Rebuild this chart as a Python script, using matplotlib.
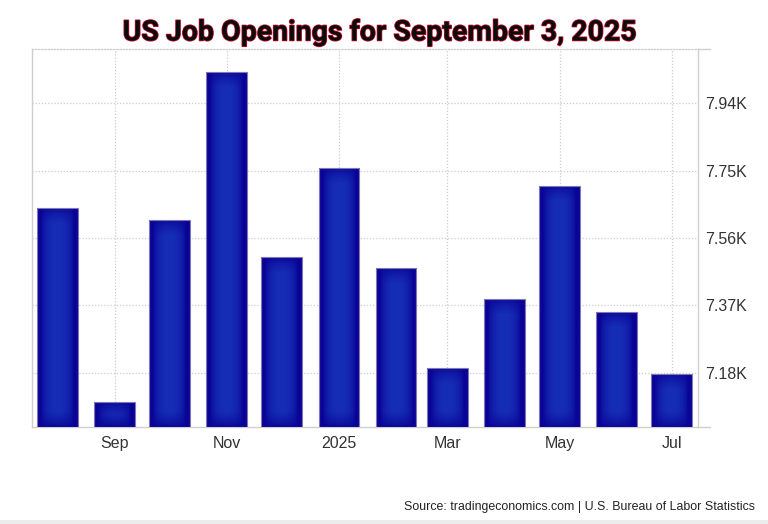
import datetime as dt
import numpy as np
import matplotlib
matplotlib.use("Agg")
import matplotlib.pyplot as plt
import matplotlib.dates as mdates
import matplotlib.patheffects as pe
from matplotlib.patches import Rectangle

# ---- data ----
months = ["2024-08", "2024-09", "2024-10", "2024-11", "2024-12", "2025-01",
          "2025-02", "2025-03", "2025-04", "2025-05", "2025-06", "2025-07"]
openings_k = [7.645, 7.097, 7.610, 8.029, 7.505, 7.758,
              7.476, 7.194, 7.389, 7.707, 7.352, 7.176]
ytick_vals = [7.18, 7.37, 7.56, 7.75, 7.94]
ytick_labels = ["7.18K", "7.37K", "7.56K", "7.75K", "7.94K"]
xtick_months = ["2024-09", "2024-11", "2025-01", "2025-03", "2025-05", "2025-07"]
xtick_labels = ["Sep", "Nov", "2025", "Mar", "May", "Jul"]
title = "US Job Openings for September 3, 2025"
source = "Source: tradingeconomics.com | U.S. Bureau of Labor Statistics"

def to_num(m):
    y, mo = m.split("-")
    return mdates.date2num(dt.datetime(int(y), int(mo), 1))

xs = [to_num(m) for m in months]
bar_w = 22.2  # days

fig = plt.figure(figsize=(7.68, 5.24), dpi=100)
fig.patch.set_facecolor("white")
ax = fig.add_axes([0.0413, 0.1845, 0.9092 - 0.0413, 0.9059 - 0.1845])

ymin, ymax = 7.026, 8.092
xmin = mdates.date2num(dt.datetime(2024, 7, 18))
xmax = mdates.date2num(dt.datetime(2025, 7, 15, 8))

# gradient image for bars
dark = np.array([10, 4, 150]) / 255.0
light = np.array([22, 46, 182]) / 255.0

def bar_gradient(h_px):
    nx, ny = 40, max(int(h_px), 10)
    u = np.linspace(-1, 1, nx)
    fx = np.clip(1 - (np.abs(u) / 0.8) ** 2, 0, 1)
    yy = np.arange(ny)
    m = 16.0
    fy = np.clip(np.minimum(yy, ny - 1 - yy) / m, 0, 1)
    f = np.outer(fy, fx) ** 0.6
    img = dark[None, None, :] * (1 - f[..., None]) + light[None, None, :] * f[..., None]
    return img

px_per_k = (427.3 - 49.3) / (ymax - ymin)
for x, v in zip(xs, openings_k):
    x0, x1 = x - bar_w / 2, x + bar_w / 2
    rect = Rectangle((x0, ymin), bar_w, v - ymin, facecolor=dark,
                     edgecolor="none", linewidth=0, zorder=3)
    ax.add_patch(rect)
    img = bar_gradient((v - ymin) * px_per_k)
    im = ax.imshow(img, extent=[x0, x1, ymin, v], aspect="auto",
                   origin="upper", zorder=3.5, interpolation="bilinear")
    im.set_clip_path(rect)
    edge = Rectangle((x0, ymin), bar_w, v - ymin, facecolor="none",
                     edgecolor="#8077b8", linewidth=0.8, zorder=4)
    ax.add_patch(edge)

ax.set_xlim(xmin, xmax)
ax.set_ylim(ymin, ymax)

ax.yaxis.tick_right()
ax.set_yticks(ytick_vals)
ax.set_yticklabels(ytick_labels)
ax.set_xticks([to_num(m) for m in xtick_months])
ax.set_xticklabels(xtick_labels)
for lab in ax.get_xticklabels() + ax.get_yticklabels():
    lab.set_fontfamily("Liberation Sans")
    lab.set_fontsize(11.5)
    lab.set_color("#333333")
ax.tick_params(axis="both", length=0)
ax.tick_params(axis="y", pad=5)
ax.tick_params(axis="x", pad=6)

ax.grid(True, which="major", color="#cccccc", linestyle=(0, (1, 1.5)), linewidth=0.9, zorder=0)
ax.set_axisbelow(True)

for s in ["left", "right", "bottom"]:
    ax.spines[s].set_color("#cfcfcf")
    ax.spines[s].set_linewidth(1.0)
ax.spines["top"].set_visible(True)
ax.spines["top"].set_color("#cccccc")
ax.spines["top"].set_linestyle((0, (1, 1.5)))
ax.spines["top"].set_linewidth(0.9)

# short extensions at right of top and bottom
ext = 12 / (698.3 - 31.7)
ax.plot([1, 1 + ext], [0, 0], transform=ax.transAxes, color="#cfcfcf", lw=1.0, clip_on=False)
ax.plot([1, 1 + ext], [1, 1], transform=ax.transAxes, color="#cfcfcf", lw=1.0, clip_on=False)

fig.text(380 / 768, 1 - 40.5 / 524, title, ha="center", va="baseline",
         fontfamily="Roboto", fontweight="bold", fontsize=20.5, color="#0c0c0c",
         path_effects=[pe.withStroke(linewidth=1.1, foreground="#c8102e")])

fig.text(755 / 768, 1 - 507 / 524, source, ha="right", va="center",
         fontfamily="Liberation Sans", fontsize=8.9, color="#222222")

# faint bottom strip
fig.patches.append(Rectangle((0, 0), 1, 4 / 524, transform=fig.transFigure,
                             facecolor="#ececec", edgecolor="none"))

fig.savefig("out.png", dpi=100)
